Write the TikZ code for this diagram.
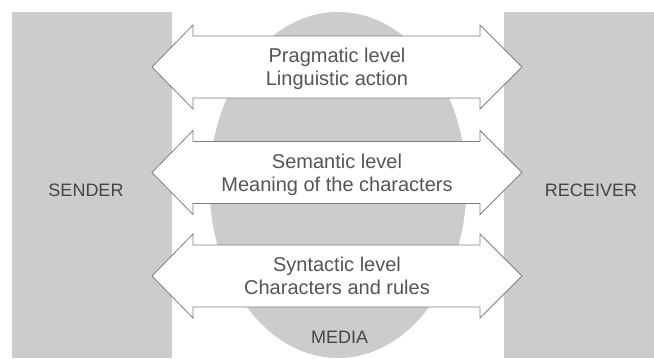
\documentclass[tikz,border=0pt]{standalone}
\usepackage{fontspec}
\setmainfont{Liberation Sans}
\definecolor{panelgray}{HTML}{CCCCCC}
\definecolor{edgegray}{HTML}{7F7F7F}
\definecolor{leveltext}{HTML}{555555}
\definecolor{labeltext}{HTML}{444444}
\tikzset{
  panel/.style={fill=panelgray, draw=none},
  arrowline/.style={draw=edgegray, fill=white, line width=0.8bp, line join=miter},
  leveltxt/.style={anchor=base, inner sep=0pt, text=leveltext,
    font=\fontsize{20bp}{23bp}\selectfont},
  roletxt/.style={anchor=base, inner sep=0pt, text=labeltext,
    font=\fontsize{18bp}{21bp}\selectfont},
  pics/levelarrow/.style={code={
    \path[arrowline] (-185,0) -- (-144,-42) -- (-144,-31) -- (143,-31)
      -- (143,-42) -- (185,0) -- (143,42) -- (143,31) -- (-144,31)
      -- (-144,42) -- cycle;
  }}
}
\newcommand{\twolines}[2]{\begin{tabular}[t]{@{}c@{}}#1\\#2\end{tabular}}
\begin{document}
\begin{tikzpicture}[x=1bp, y=-1bp]
  \useasboundingbox[fill=white] (0,0) rectangle (654,358);

  % sender and receiver panels, the medium in between
  \path[panel] (12,12) rectangle (172,358);
  \path[panel] (504,12) rectangle (654,358);
  \path[panel] (338,185) ellipse [x radius=128.5, y radius=173];

  % the three levels of communication
  \pic at (337,67) {levelarrow};
  \pic at (337,172.5) {levelarrow};
  \pic at (337,276) {levelarrow};

  \node[leveltxt] (pragmatic) at (337,62.7)
    {\twolines{Pragmatic level}{Linguistic action}};
  \node[leveltxt] (semantic) at (337,168.2)
    {\twolines{Semantic level}{Meaning of the characters}};
  \node[leveltxt] (syntactic) at (337,271.7)
    {\twolines{Syntactic level}{Characters and rules}};

  \node[roletxt] (sender) at (86,196.7) {SENDER};
  \node[roletxt] (receiver) at (591,196.7) {RECEIVER};
  \node[roletxt] (media) at (339.7,343.3) {MEDIA};
\end{tikzpicture}
\end{document}
